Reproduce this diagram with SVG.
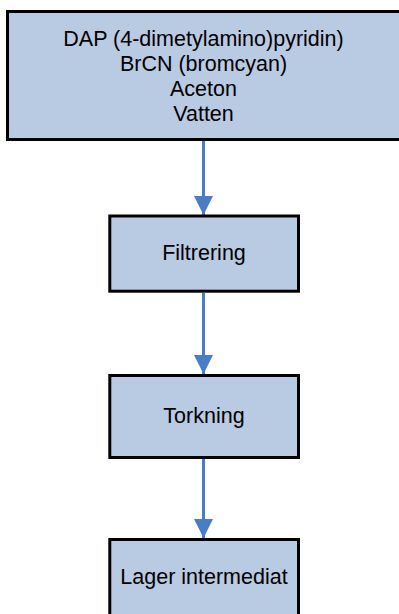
<svg xmlns="http://www.w3.org/2000/svg" width="399" height="614" viewBox="0 0 399 614">
  <style>
    .box { fill: #B9CAE3; stroke: #000; stroke-width: 3; }
    .label { font-family: "Liberation Sans", Arial, sans-serif; font-size: 21.5px; fill: #000; text-anchor: middle; }
    .flow { stroke: #4A7DC4; stroke-width: 3; fill: none; }
  </style>
  <defs>
    <marker id="arrow" viewBox="0 0 20 20" refX="20" refY="10" markerUnits="userSpaceOnUse" markerWidth="19" markerHeight="19" orient="auto">
      <path d="M0,0 L20,10 L0,20 Z" fill="#4A7DC4"/>
    </marker>
  </defs>

  <g id="connectors">
    <line class="flow" x1="203.5" y1="141" x2="203.5" y2="215" marker-end="url(#arrow)"/>
    <line class="flow" x1="203.5" y1="293" x2="203.5" y2="374" marker-end="url(#arrow)"/>
    <line class="flow" x1="203.5" y1="459" x2="203.5" y2="538" marker-end="url(#arrow)"/>
  </g>

  <g id="node-ravaror">
    <rect class="box" x="7.5" y="11.5" width="396" height="128"/>
    <text class="label" x="203.5" y="46">DAP (4-dimetylamino)pyridin)</text>
    <text class="label" x="203.5" y="71">BrCN (bromcyan)</text>
    <text class="label" x="203.5" y="96">Aceton</text>
    <text class="label" x="203.5" y="121">Vatten</text>
  </g>

  <g id="node-filtrering">
    <rect class="box" x="109.8" y="216" width="188.7" height="75.2"/>
    <text class="label" x="204" y="259.5">Filtrering</text>
  </g>

  <g id="node-torkning">
    <rect class="box" x="109.8" y="375.5" width="188.7" height="82"/>
    <text class="label" x="204" y="422.5">Torkning</text>
  </g>

  <g id="node-lager">
    <rect class="box" x="109.8" y="539.5" width="188.7" height="90"/>
    <text class="label" x="204" y="584">Lager intermediat</text>
  </g>
</svg>
